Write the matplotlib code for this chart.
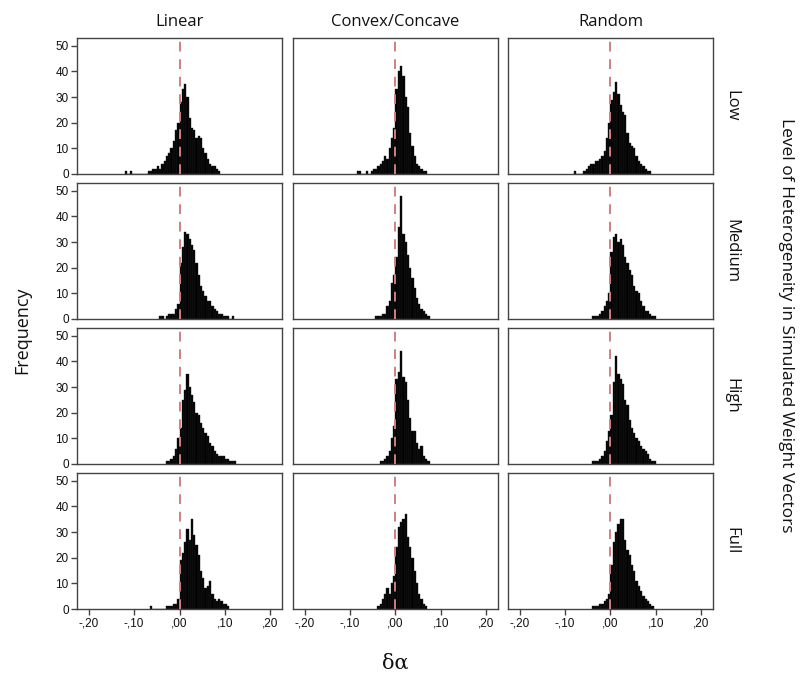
import matplotlib
matplotlib.use("Agg")
import matplotlib.pyplot as plt
import numpy as np

plt.rcParams['font.family'] = ['Open Sans', 'DejaVu Sans']

# ---- data ----
columns = ["Linear", "Convex/Concave", "Random"]
rows = ["Low", "Medium", "High", "Full"]
x_ticks = [-0.20, -0.10, 0.00, 0.10, 0.20]
x_tick_labels = ["-,20", "-,10", ",00", ",10", ",20"]
y_ticks = [0, 10, 20, 30, 40, 50]
bin_width = 0.005

# each panel: left edge of first bin, counts per bin
linear_low_start = -0.120
linear_low_counts = [1, 0, 1, 0, 0, 0, 0, 0, 0, 0, 1, 1, 2, 2, 3, 2, 4, 5, 7, 8, 10, 13, 17, 20,
                     28, 33, 35, 30, 22, 18, 17, 14, 15, 14, 10, 8, 6, 4, 3, 3, 2, 1]
convex_low_start = -0.085
convex_low_counts = [1, 1, 0, 0, 1, 0, 1, 2, 2, 3, 4, 5, 7, 6, 10, 14, 18,
                     33, 40, 42, 38, 30, 26, 16, 11, 7, 4, 3, 2, 1, 1]
random_low_start = -0.080
random_low_counts = [1, 0, 0, 0, 1, 2, 3, 4, 4, 5, 5, 6, 7, 9, 14, 20,
                     29, 32, 36, 31, 27, 24, 23, 16, 12, 11, 10, 7, 5, 4, 3, 2, 1, 1]

linear_med_start = -0.045
linear_med_counts = [1, 1, 0, 1, 2, 2, 2, 4, 6,
                     22, 28, 34, 33, 31, 29, 27, 22, 17, 13, 11, 9, 7, 7, 5, 4, 3, 2, 2, 1, 1, 1, 0, 1]
convex_med_start = -0.045
convex_med_counts = [1, 1, 1, 2, 2, 5, 7, 14, 17,
                     24, 36, 48, 33, 30, 25, 20, 16, 12, 8, 6, 4, 3, 2, 1]
random_med_start = -0.040
random_med_counts = [1, 1, 1, 2, 3, 5, 7, 10,
                     26, 32, 33, 30, 31, 29, 24, 22, 19, 17, 13, 11, 10, 7, 5, 3, 3, 2, 1, 1]

linear_high_start = -0.030
linear_high_counts = [1, 1, 2, 3, 6, 10,
                      14, 25, 29, 35, 30, 27, 24, 20, 19, 16, 14, 12, 11, 8, 7, 5, 4, 3, 3, 3, 2, 2, 1, 1, 1]
convex_high_start = -0.035
convex_high_counts = [1, 1, 2, 3, 5, 10, 15,
                      33, 36, 44, 34, 32, 25, 18, 13, 13, 8, 6, 7, 3, 2, 1]
random_high_start = -0.040
random_high_counts = [1, 1, 1, 2, 3, 5, 9, 13,
                      19, 32, 42, 35, 33, 31, 25, 23, 17, 14, 12, 10, 9, 7, 6, 5, 4, 2, 1, 1]

linear_full_start = -0.065
linear_full_counts = [1, 0, 0, 0, 0, 0, 0, 1, 1, 1, 2, 2, 4,
                      19, 22, 26, 31, 27, 35, 29, 25, 21, 15, 12, 8, 9, 11, 6, 4, 3, 4, 3, 2, 2, 1]
convex_full_start = -0.040
convex_full_counts = [1, 2, 4, 6, 8, 6, 10, 13,
                      24, 32, 34, 35, 37, 28, 24, 20, 15, 10, 6, 4, 2, 1]
random_full_start = -0.040
random_full_counts = [1, 1, 1, 2, 2, 3, 4, 6,
                      17, 26, 30, 33, 35, 35, 27, 23, 21, 17, 15, 11, 9, 7, 5, 4, 3, 2, 1]

panels = [
    [(linear_low_start, linear_low_counts), (convex_low_start, convex_low_counts), (random_low_start, random_low_counts)],
    [(linear_med_start, linear_med_counts), (convex_med_start, convex_med_counts), (random_med_start, random_med_counts)],
    [(linear_high_start, linear_high_counts), (convex_high_start, convex_high_counts), (random_high_start, random_high_counts)],
    [(linear_full_start, linear_full_counts), (convex_full_start, convex_full_counts), (random_full_start, random_full_counts)],
]

# ---- layout ----
W, H = 803, 686
fig = plt.figure(figsize=(W / 100, H / 100), dpi=100)
col_left = [77, 293, 508]
col_w = 205
row_top = [38, 183, 328, 473]
row_h = 136
frame_col = '#444444'
text_col = '#111111'
tick_font = ['Liberation Sans', 'DejaVu Sans']

for r in range(4):
    for c in range(3):
        l = col_left[c] / W
        b = 1 - (row_top[r] + row_h) / H
        ax = fig.add_axes([l, b, col_w / W, row_h / H])
        start, counts = panels[r][c]
        edges = start + bin_width * np.arange(len(counts))
        ax.bar(edges, counts, width=bin_width, align='edge', color='black',
               edgecolor='#222222', linewidth=0.3)
        ax.axvline(0, color='#d07f7f', linestyle=(0, (5, 4)), linewidth=1.4, zorder=3)
        ax.set_xlim(-0.226, 0.226)
        ax.set_ylim(0, 53)
        for s in ax.spines.values():
            s.set_color(frame_col)
            s.set_linewidth(1.0)
        ax.set_xticks(x_ticks)
        ax.set_yticks(y_ticks)
        ax.tick_params(colors=text_col, length=4, width=1.0, labelsize=8.5,
                       color=frame_col, pad=2)
        if c == 0:
            ax.set_yticklabels([str(v) for v in y_ticks], family=tick_font)
        else:
            ax.tick_params(axis='y', length=0, labelleft=False)
        if r == 3:
            ax.set_xticklabels(x_tick_labels, family=tick_font)
        else:
            ax.tick_params(axis='x', length=0, labelbottom=False)
        if r == 0:
            ax.set_title(columns[c], fontsize=12, color=text_col, pad=9)
        if c == 2:
            ax.text(1.09, 0.5, rows[r], transform=ax.transAxes, rotation=-90,
                    ha='center', va='center', fontsize=12, color=text_col)

fig.text(22 / W, 1 - 330 / H, "Frequency", rotation=90, ha='center', va='center',
         fontsize=13, color=text_col)
fig.text(395 / W, 1 - 663 / H, "δα", ha='center', va='center', fontsize=15,
         color=text_col, family=['DejaVu Serif'])
fig.text(786 / W, 1 - 325 / H, "Level of Heterogeneity in Simulated Weight Vectors",
         rotation=-90, ha='center', va='center', fontsize=12.5, color=text_col)

fig.savefig("out.png", dpi=100)
